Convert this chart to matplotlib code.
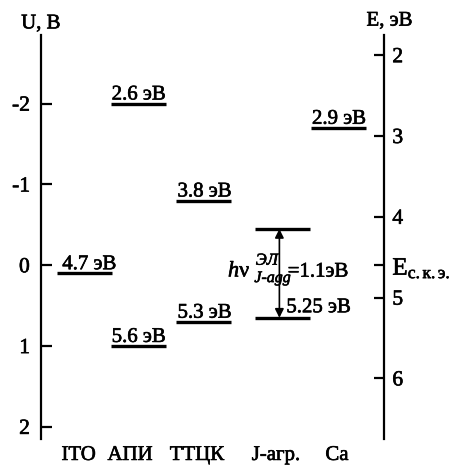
import matplotlib
matplotlib.use("Agg")
import matplotlib.pyplot as plt
import matplotlib.patheffects as pe

plt.rcParams['font.family'] = ['Liberation Serif', 'DejaVu Serif']
plt.rcParams['mathtext.fontset'] = 'custom'
plt.rcParams['mathtext.rm'] = 'Liberation Serif'
plt.rcParams['mathtext.it'] = 'Liberation Serif:italic'
plt.rcParams['axes.unicode_minus'] = False

# energy levels, eV (vacuum = 0, drawn downwards)
materials = ["ITO", "АПИ", "ТТЦК", "J-агр.", "Ca"]
level_material = ["ITO", "АПИ", "АПИ", "ТТЦК", "ТТЦК", "Ca"]
level_energy = [4.7, 2.6, 5.6, 3.8, 5.3, 2.9]
level_text = ["4.7 эВ", "2.6 эВ", "5.6 эВ", "3.8 эВ", "5.3 эВ", "2.9 эВ"]

# J-aggregate: ground level and electroluminescence photon energy
j_ground = 5.25
j_photon = 1.1
j_excited = j_ground - j_photon

e_cke = 4.6  # energy that corresponds to U = 0
e_ticks = [2, 3, 4, 5, 6]
u_ticks = [-2, -1, 0, 1, 2]

# column layout (x in arbitrary units, 0..10)
col_x = {"ITO": 1.27, "АПИ": 2.83, "ТТЦК": 4.75, "J-агр.": 7.05, "Ca": 8.67}
name_x = [1.1, 2.6, 4.55, 6.85, 8.63]
half_w = 0.8

stroke = [pe.withStroke(linewidth=0.45, foreground='black')]
fs = 15

fig = plt.figure(figsize=(4.51, 4.70), dpi=100)
ax = fig.add_axes([41/451, 31/470, 343/451, 404/470])
ax.set_xlim(0, 10)
ax.set_ylim(6.75, 1.75)

for s in ['top', 'bottom', 'left']:
    ax.spines[s].set_visible(False)
ax.spines['right'].set_linewidth(1.6)

# right axis: energy, eV
ax.yaxis.tick_right()
ax.set_yticks(e_ticks + [e_cke])
ax.set_yticklabels([str(t) for t in e_ticks] + [r'E$_{\mathrm{с.к.э.}}$'],
                   fontsize=fs + 0.5)
ax.get_yticklabels()[-1].set_fontsize(fs + 3)
ax.tick_params(axis='y', direction='in', length=7, width=1.6, pad=6)
for lab in ax.get_yticklabels():
    lab.set_path_effects(stroke)

# bottom: material names
ax.set_xticks(name_x)
ax.set_xticklabels(materials, fontsize=fs)
ax.tick_params(axis='x', length=0, pad=5)
for lab in ax.get_xticklabels():
    lab.set_path_effects(stroke)

# left axis: voltage, V
uax = ax.secondary_yaxis('left', functions=(lambda e: e - e_cke, lambda u: u + e_cke))
uax.set_yticks(u_ticks)
uax.set_yticklabels([str(t) for t in u_ticks], fontsize=fs + 0.5)
uax.spines['left'].set_linewidth(1.6)
uax.tick_params(direction='in', length=8, width=1.6, pad=8)
for lab in uax.get_yticklabels():
    lab.set_path_effects(stroke)

ax.annotate("U, В", xy=(0, 1), xycoords='axes fraction', xytext=(0, 8),
            textcoords='offset points', ha='center', va='center',
            fontsize=fs, path_effects=stroke)
ax.annotate("E, эВ", xy=(1, 1), xycoords='axes fraction', xytext=(4, 10),
            textcoords='offset points', ha='center', va='center',
            fontsize=fs, path_effects=stroke)

# levels with their energies written on top
for m, e, t in zip(level_material, level_energy, level_text):
    x0 = col_x[m] - half_w
    ax.hlines(e, x0, x0 + 2 * half_w, color='black', lw=2.4)
    dx = 0.15 if m == "ITO" else 0.03
    ax.annotate(t, xy=(x0 + dx, e), xytext=(0, 3), textcoords='offset points',
                ha='left', va='baseline', fontsize=fs, path_effects=stroke)

# J-aggregate transition
xj = col_x["J-агр."]
xa = xj - 0.1
ax.hlines([j_excited, j_ground], xj - half_w, xj + half_w, color='black', lw=2.4)
ax.annotate('', xy=(xa, j_excited), xytext=(xa, j_ground),
            arrowprops=dict(arrowstyle='<|-|>', color='black', lw=1.2,
                            mutation_scale=13, shrinkA=0, shrinkB=0))

# photon energy label, built from pieces around the arrow
y_lab = (j_excited + j_ground) / 2 + 0.04
pieces = [
    (r'$h$ν', (-37, 0), fs + 1),
    (r'$ЭЛ$', (-17, 8.5), 12),
    (r'$J$-$agg$', (-18, -4), 11.5),
    (f'={j_photon:.1f}эВ', (6, 0), fs),
]
for txt, off, size in pieces:
    ax.annotate(txt, xy=(xa, y_lab), xytext=off, textcoords='offset points',
                ha='left', va='baseline', fontsize=size, path_effects=stroke)

ax.annotate(f'{j_ground:.2f} эВ', xy=(xa, j_ground), xytext=(5, 4),
            textcoords='offset points', ha='left', va='baseline',
            fontsize=fs, path_effects=stroke)

fig.savefig("out.png", dpi=100)
